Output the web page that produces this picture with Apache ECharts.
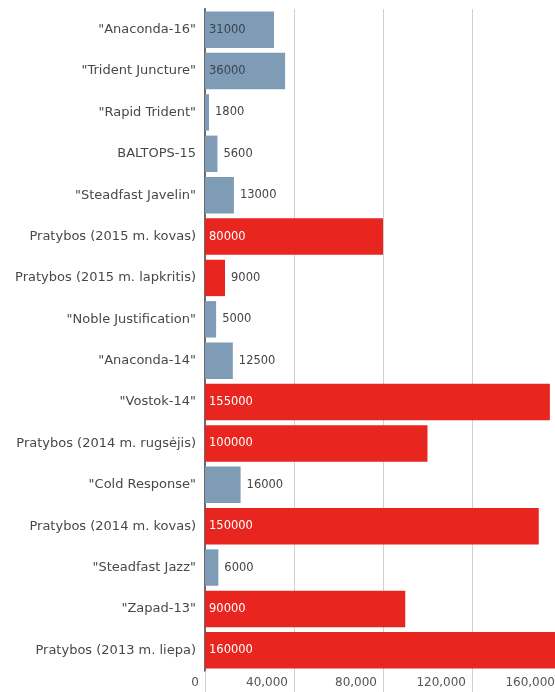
<!DOCTYPE html>
<html><head><meta charset="utf-8">
<script src="https://cdn.jsdelivr.net/npm/echarts@6/dist/echarts.min.js"></script>
<style>html,body{margin:0;padding:0;background:#fff;overflow:hidden;width:555px;height:692px}#c{width:562px;height:692px}</style>
</head><body><div id="c"></div>
<script>
const categories = ['"Anaconda-16"','"Trident Juncture"','"Rapid Trident"','BALTOPS-15','"Steadfast Javelin"','Pratybos (2015 m. kovas)','Pratybos (2015 m. lapkritis)','"Noble Justification"','"Anaconda-14"','"Vostok-14"','Pratybos (2014 m. rugsėjis)','"Cold Response"','Pratybos (2014 m. kovas)','"Steadfast Jazz"','"Zapad-13"','Pratybos (2013 m. liepa)'];
const values = [31000,36000,1800,5600,13000,80000,9000,5000,12500,155000,100000,16000,150000,6000,90000,160000];
const isRussian = [false,false,false,false,false,true,true,false,false,true,true,false,true,false,true,true];
const xTicks = [0,40000,80000,120000,160000];

const BLUE = '#7e9cb6', RED = '#e8251f';
const data = values.map((v,i)=>{
  const inside = v >= 30000;
  return {
    value: v,
    itemStyle:{color: isRussian[i] ? RED : BLUE},
    label:{
      show:true,
      position: inside ? 'insideLeft' : 'right',
      distance: inside ? 4 : 6,
      color: inside ? (isRussian[i] ? '#ffffff' : '#3a4550') : '#444',
      fontSize:11.5, fontFamily:'DejaVu Sans'
    }
  };
});
const chart = echarts.init(document.getElementById('c'));
chart.setOption({
  animation:false,
  grid:{left:205,right:1,top:9,bottom:21,containLabel:false},
  xAxis:{type:'value',min:xTicks[0],max:xTicks[xTicks.length-1],interval:40000,
    axisLine:{show:false},
    axisTick:{show:true,length:21,lineStyle:{color:'#d0d0d0'}},
    splitLine:{show:true,lineStyle:{color:'#d0d0d0'}},
    axisLabel:{color:'#555',fontSize:12,fontFamily:'DejaVu Sans',align:'right',margin:6,padding:[0,6,0,0],
      formatter:v=>v===0?'0':v.toLocaleString('en-US')}},
  yAxis:{type:'category',data:categories,inverse:true,
    axisLine:{show:true,lineStyle:{color:'#6a6a6a',width:2}},
    axisTick:{show:false},
    axisLabel:{color:'#484848',fontSize:13,fontFamily:'DejaVu Sans',margin:9}},
  series:[{type:'bar',data:data,barCategoryGap:'12%'}]
});
</script></body></html>
